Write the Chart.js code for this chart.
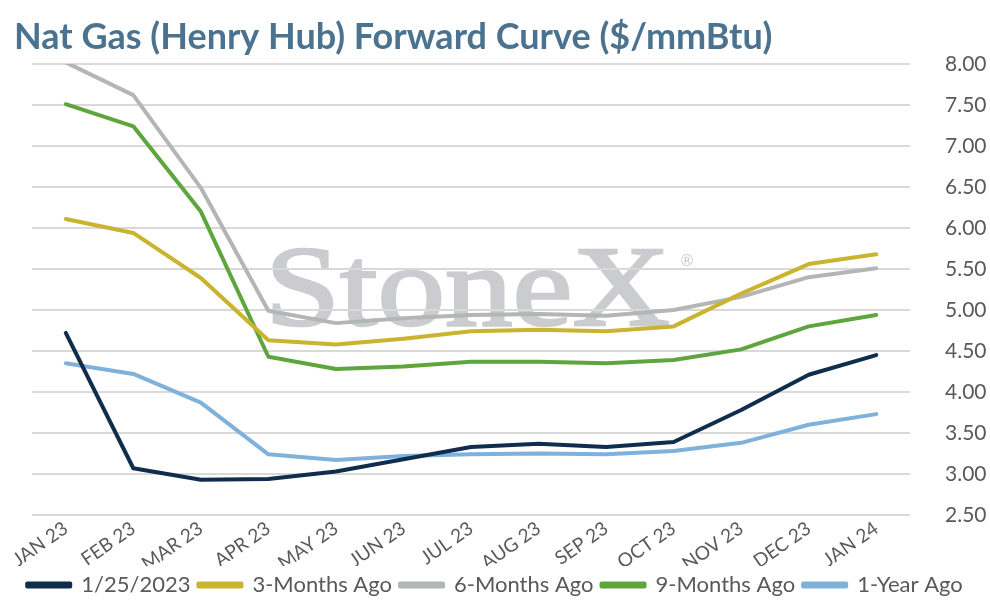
<!DOCTYPE html>
<html>
<head>
<meta charset="utf-8">
<script src="https://cdn.jsdelivr.net/npm/chart.js"></script>
<style>
  html,body{margin:0;padding:0;background:#fff}
  #wrap{width:990px;height:606px;position:relative}
</style>
</head>
<body>
<div id="wrap"><canvas id="grafik"></canvas></div>
<script>
// ================= DATA =================
const bulanLabels = ["JAN 23","FEB 23","MAR 23","APR 23","MAY 23","JUN 23","JUL 23","AUG 23","SEP 23","OCT 23","NOV 23","DEC 23","JAN 24"];
const kurvaSekarang = [4.72,3.07,2.93,2.94,3.03,3.18,3.33,3.37,3.33,3.39,3.78,4.21,4.45];
const kurva3Bulan   = [6.11,5.94,5.39,4.63,4.58,4.65,4.74,4.76,4.74,4.80,5.20,5.56,5.68];
const kurva6Bulan   = [8.02,7.62,6.49,4.99,4.84,4.90,4.94,4.95,4.93,5.00,5.16,5.40,5.51];
const kurva9Bulan   = [7.51,7.24,6.20,4.43,4.28,4.31,4.37,4.37,4.35,4.39,4.52,4.80,4.94];
const kurva1Tahun   = [4.35,4.22,3.87,3.24,3.17,3.22,3.24,3.25,3.24,3.28,3.38,3.60,3.73];
const yMin = 2.5, yMax = 8, yStep = 0.5;
const judul = "Nat Gas (Henry Hub) Forward Curve ($/mmBtu)";

const FONT = "Lato, 'Open Sans', sans-serif";
const abu = "#595959";

function seri(label, data, warna) {
  return {
    label, data,
    borderColor: warna, backgroundColor: warna,
    borderWidth: 4, pointRadius: 0, tension: 0,
    borderCapStyle: "round", borderJoinStyle: "round"
  };
}

// ================= JUDUL + WATERMARK =================
const hiasan = {
  id: "hiasan",
  beforeDraw(chart) {
    // watermark di belakang garis grid
    const {ctx} = chart;
    ctx.save();
    ctx.fillStyle = "#cbcccf";
    ctx.strokeStyle = "#cbcccf";
    ctx.lineWidth = 2.5;
    ctx.textBaseline = "alphabetic";
    ctx.font = "114px 'Liberation Serif', serif";
    const teks = "StoneX";
    const w = ctx.measureText(teks).width;
    ctx.translate(265, 325);
    ctx.scale(405 / w, 1);
    ctx.fillText(teks, 0, 0);
    ctx.strokeText(teks, 0, 0);
    ctx.restore();
    ctx.save();
    ctx.fillStyle = "#cbcccf";
    ctx.font = "16px 'DejaVu Sans', sans-serif";
    ctx.textAlign = "center";
    ctx.textBaseline = "middle";
    ctx.fillText("®", 687, 262);
    ctx.restore();
  },
  afterDraw(chart) {
    const {ctx} = chart;
    ctx.save();
    ctx.fillStyle = "#4b7390";
    ctx.textBaseline = "middle";
    ctx.font = "bold 36px " + FONT;
    ctx.fillText(judul, 14, 37);
    ctx.restore();
  }
};

// ================= CHART =================
new Chart(document.getElementById("grafik"), {
  type: "line",
  data: {
    labels: bulanLabels,
    datasets: [
      seri("1/25/2023", kurvaSekarang, "#112d4e"),
      seri("3-Months Ago", kurva3Bulan, "#c9b32f"),
      seri("6-Months Ago", kurva6Bulan, "#b2b6b5"),
      seri("9-Months Ago", kurva9Bulan, "#5ea53e"),
      seri("1-Year Ago", kurva1Tahun, "#7fb1db")
    ]
  },
  options: {
    responsive: true,
    maintainAspectRatio: false,
    animation: false,
    layout: { padding: { left: 0, right: 0, top: 64, bottom: 0 } },
    plugins: {
      legend: {
        position: "bottom",
        labels: {
          color: abu,
          font: { family: FONT, size: 22 },
          boxWidth: 43,
          boxHeight: 3,
          padding: 8
        }
      },
      tooltip: { enabled: false }
    },
    scales: {
      x: {
        offset: true,
        grid: { display: false, drawTicks: false },
        border: { display: false },
        afterFit: s => { s.height = 51; },
        ticks: {
          color: abu,
          font: { family: FONT, size: 19 },
          maxRotation: 35, minRotation: 35,
          padding: 2
        }
      },
      y: {
        position: "right",
        min: yMin, max: yMax,
        afterFit: s => { s.width = 80; },
        grid: { color: "#d9d9d9", lineWidth: 2, drawTicks: false },
        border: { display: false },
        ticks: {
          stepSize: yStep,
          color: abu,
          font: { family: FONT, size: 21 },
          padding: 35,
          callback: v => v.toFixed(2)
        }
      },
      kiri: {
        type: "linear",
        position: "left",
        afterFit: s => { s.width = 32; },
        grid: { display: false },
        border: { display: false },
        ticks: { display: false }
      }
    }
  },
  plugins: [hiasan]
});
</script>
</body>
</html>
